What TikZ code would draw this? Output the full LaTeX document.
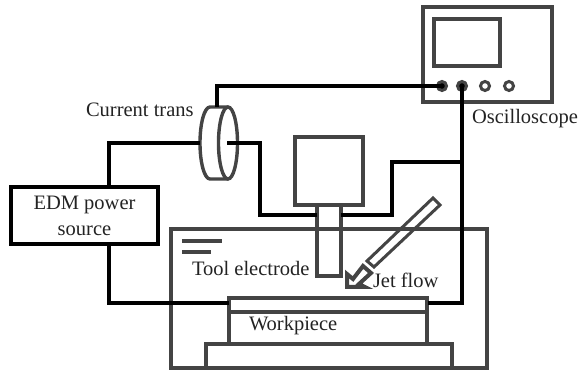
\documentclass[tikz,border=0pt]{standalone}
\usepackage{fontspec}
\setmainfont{Liberation Serif}
\usetikzlibrary{positioning, calc, shapes.geometric}
\definecolor{frame}{RGB}{68, 68, 68}
\definecolor{wire}{RGB}{0, 0, 0}
\definecolor{label}{RGB}{35, 35, 35}
\tikzset{
  part/.style={draw=frame, line width=3.4pt, inner sep=0pt, outer sep=0pt, anchor=north west, fill=none},
  cable/.style={draw=wire, line width=4pt},
  caption/.style={text=label, font=\fontsize{20.5}{24}\selectfont, inner sep=0pt, outer sep=0pt},
  knob/.style={circle, draw=frame, fill=white, line width=3pt, minimum size=9pt, inner sep=0pt, outer sep=0pt},
  coil/.style={ellipse, draw=frame, line width=3.4pt, minimum height=72pt, inner sep=0pt, outer sep=0pt},
}
\begin{document}
\begin{tikzpicture}[x=1pt, y=-1pt]
  \useasboundingbox (0, 0) rectangle (579, 371);
  % Oscilloscope
  \node[part, minimum width=129pt, minimum height=95pt] (scope) at (423, 7) {};
  \node[part, minimum width=66pt, minimum height=47pt] (screen) at (434, 19) {};
  \node[knob, fill=wire] (k1) at (442, 86) {};
  \node[knob, fill=wire] (k2) at (462, 86) {};
  \node[knob] (k3) at (485, 86) {};
  \node[knob] (k4) at (509, 86) {};
  \node[caption, anchor=west] (scopelabel) at (472, 119) {Oscilloscope};
  % Current transformer
  \node[coil, minimum width=19pt] (ctright) at (228, 143) {};
  \coordinate (ctwest) at (200, 143);
  \draw[frame, line width=3.4pt] (ctright.north) -- (210, 107) .. controls (204.5, 107) and (200, 123) .. (ctwest) .. controls (200, 163) and (204.5, 179) .. (210, 179) -- (ctright.south);
  \node[caption, anchor=west] (ctlabel) at (86, 110) {Current trans};
  % EDM source
  \node[caption, draw=wire, line width=4pt, minimum width=147pt, minimum height=57pt, anchor=north west, align=center] (edm) at (11, 187) {EDM power\\[2pt]source};
  % Tool
  \node[part, minimum width=68pt, minimum height=68pt] (holder) at (295, 137) {};
  % Tank
  \node[part, minimum width=316pt, minimum height=139pt] (tank) at (171, 229) {};
  \node[part, minimum width=246pt, minimum height=24pt] (table) at (206, 344) {};
  \node[part, minimum width=198pt, minimum height=32pt] (workpiece) at (229, 312) {};
  \node[part, minimum width=198pt, minimum height=14pt] (plate) at (229, 298) {};
  \node[caption, anchor=west] (wplabel) at (249, 326) {Workpiece};
  \node[part, minimum width=24pt, minimum height=71pt] (electrode) at (317, 205) {};
  \node[caption, anchor=west] (toollabel) at (192, 268) {Tool electrode};
  \node[caption, anchor=west] (jetlabel) at (373, 280) {Jet flow};
  \draw[frame, line width=4pt] (182, 241) -- (222, 241);
  \draw[frame, line width=4pt] (182, 252) -- (211, 252);
  % Jet nozzle and arrow
  \draw[frame, line width=3pt, line join=miter] (433, 198) -- (440, 205) -- (374, 267) -- (367, 261) -- cycle;
  \draw[frame, line width=4pt, line join=miter] (347, 287) -- (347, 274) -- (353, 279) -- (363, 266) -- (371, 273) -- (359, 284) -- (365, 287) -- cycle;
  % Wiring
  \coordinate (ctup) at (217, 107);
  \coordinate (ctin) at (227, 143);
  \coordinate (edmup) at (109, 187);
  \coordinate (edmdown) at (109, 244);
  \coordinate (toolleft) at (317, 215);
  \coordinate (toolright) at (341, 215);
  \coordinate (bend) at (392, 162);
  \coordinate (scopedrop) at (462, 162);
  \coordinate (plateright) at (428, 303);
  \coordinate (plateleft) at (229, 303);
  \draw[cable] (k1.center) -| (ctup);
  \draw[cable] (edmup) |- (ctwest);
  \draw[cable] (ctin) -| (260, 215) -- (toolleft);
  \draw[cable] (toolright) -| (bend) -- (scopedrop);
  \draw[cable] (k2.center) |- (plateright);
  \draw[cable] (edmdown) |- (plateleft);
\end{tikzpicture}
\end{document}
